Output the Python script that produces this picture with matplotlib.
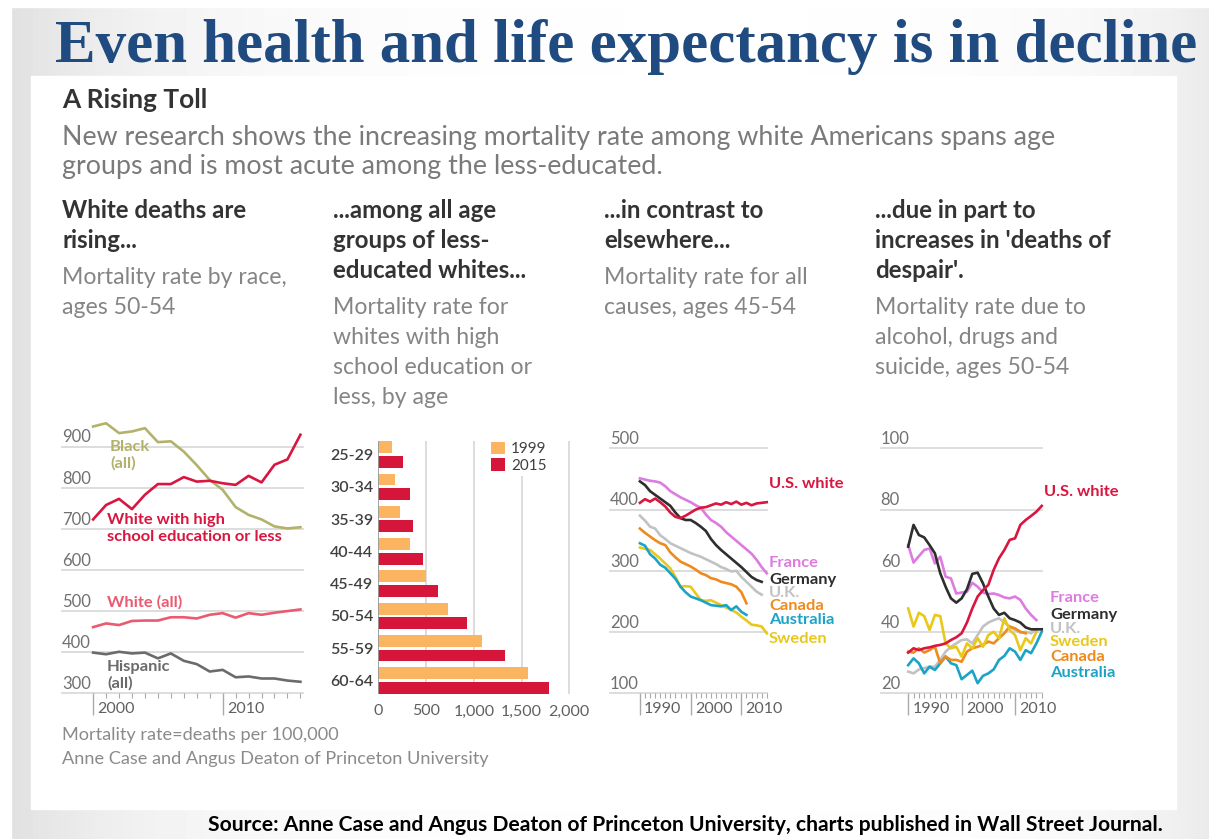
import numpy as np
import matplotlib
matplotlib.use('Agg')
import matplotlib.pyplot as plt
import matplotlib.transforms as mtransforms
from matplotlib.patches import Patch, Rectangle

W, H = 1209, 839

# panel 1: mortality rate by race, ages 50-54
race_years = list(range(2000, 2017))
black_all = [949, 957, 933, 937, 945, 911, 913, 888, 855, 819, 795, 753, 734, 723, 706, 701, 704]
white_hs = [723, 758, 773, 748, 783, 809, 809, 826, 815, 817, 811, 807, 829, 813, 856, 869, 929]
white_all = [461, 470, 466, 476, 477, 477, 485, 485, 482, 491, 495, 484, 495, 491, 496, 500, 504]
hispanic_all = [399, 395, 401, 397, 399, 385, 397, 379, 371, 353, 357, 339, 341, 336, 336, 331, 328]

# panel 2: whites with high school education or less, by age
age_groups = ['25-29', '30-34', '35-39', '40-44', '45-49', '50-54', '55-59', '60-64']
rate_1999 = [147, 175, 227, 332, 500, 727, 1091, 1563]
rate_2015 = [262, 332, 367, 472, 622, 930, 1332, 1790]

# panel 3: all causes, ages 45-54 (series start in 1990)
us_white_all = [411, 417, 413, 418, 412, 405, 395, 388, 386, 390, 395, 400, 403, 404, 407, 410,
                408, 412, 409, 413, 408, 411, 407, 410, 411, 412]
france_all = [451, 449, 447, 446, 444, 438, 430, 425, 420, 416, 412, 407, 403, 392, 383, 378,
              372, 363, 356, 349, 342, 335, 328, 318, 306, 296]
germany_all = [446, 440, 430, 424, 418, 412, 406, 395, 386, 383, 383, 378, 372, 365, 352, 342,
               334, 327, 320, 313, 306, 298, 290, 285, 282]
uk_all = [390, 382, 372, 369, 358, 352, 345, 341, 337, 333, 329, 326, 323, 319, 315, 311,
          306, 303, 299, 300, 290, 282, 274, 266, 261]
canada_all = [369, 362, 356, 350, 345, 342, 330, 322, 315, 311, 307, 302, 296, 293, 288, 286,
              282, 280, 278, 274, 265, 247]
australia_all = [345, 341, 327, 320, 310, 305, 296, 287, 274, 265, 258, 255, 252, 248, 244, 243,
                 242, 244, 236, 242, 233, 228]
sweden_all = [338, 336, 334, 327, 320, 312, 304, 290, 274, 275, 274, 263, 252, 251, 252, 248,
              244, 240, 236, 232, 225, 219, 212, 211, 209, 198]

# panel 4: alcohol, drugs and suicide, ages 50-54 (series start in 1990)
us_white_despair = [33.3, 34.7, 34.1, 34.7, 35.0, 35.5, 35.8, 36.3, 37.4, 38.3, 39.6, 43.1, 47.7,
                    51.6, 53.7, 55.4, 60.3, 64.1, 66.8, 70.1, 70.6, 75.0, 76.6, 77.9, 79.3, 81.2]
germany_despair = [67.9, 75.0, 71.7, 70.9, 68.4, 65.7, 59.2, 54.8, 51.0, 49.6, 51.0, 54.0, 59.0,
                   59.4, 55.9, 51.6, 47.7, 45.6, 46.3, 44.5, 43.9, 43.1, 41.5, 40.9, 40.9, 40.9]
france_despair = [68.4, 62.7, 64.8, 66.8, 67.3, 62.4, 64.6, 58.1, 57.5, 52.6, 52.9, 53.2, 56.1,
                  54.8, 52.9, 52.4, 52.6, 52.1, 51.3, 51.0, 51.6, 50.5, 47.7, 45.6, 43.9]
uk_despair = [27.1, 26.5, 27.8, 28.2, 28.7, 28.7, 30.9, 33.6, 35.2, 36.3, 37.4, 37.6, 36.3,
              39.0, 41.8, 43.1, 43.9, 44.5, 43.1, 41.8, 40.7, 39.8, 40.1, 39.6, 40.9]
sweden_despair = [47.7, 41.8, 46.3, 45.2, 40.7, 45.6, 45.2, 36.3, 34.7, 35.2, 32.0, 36.3, 34.7,
                  38.0, 35.2, 39.0, 40.1, 38.0, 44.5, 40.7, 39.0, 34.1, 38.0, 36.3, 40.1]
canada_despair = [33.6, 33.3, 34.7, 33.3, 34.1, 35.2, 29.8, 32.0, 30.9, 30.9, 30.3, 33.6, 34.7,
                  35.2, 35.8, 36.9, 36.3, 38.0, 39.6, 41.8, 41.2, 40.1, 39.6]
australia_despair = [29.2, 31.4, 29.8, 26.5, 28.7, 27.6, 29.8, 32.0, 29.8, 29.2, 24.6, 26.0, 27.4,
                     23.3, 25.7, 26.5, 27.8, 30.9, 32.2, 34.7, 33.6, 30.9, 34.1, 33.1, 36.3, 40.1]

CRIMSON = '#d8163f'
PINK = '#ea5a70'
OLIVE = '#b3b26b'
GREY = '#6b6b6b'
C1999 = '#fbb45f'
C2015 = '#d5153a'
FRANCE = '#de7be0'
GERMANY = '#2e2e2e'
UK = '#c2c2c2'
CANADA = '#ef8a1c'
AUSTRALIA = '#1ca3c8'
SWEDEN = '#e9c81c'
GRID = '#dadada'
SANS = ['Lato', 'DejaVu Sans']

plt.rcParams['font.family'] = SANS

fig = plt.figure(figsize=(W / 100, H / 100), dpi=100)
fig.patch.set_facecolor('white')
renderer = fig.canvas.get_renderer()


def rect(l, t, r, b):
    return [l / W, 1 - b / H, (r - l) / W, (b - t) / H]


def put(x, y, s, **kw):
    kw.setdefault('va', 'baseline')
    return fig.text(x / W, 1 - y / H, s, **kw)


def fit(t, width):
    w = t.get_window_extent(renderer).width
    t.set_fontsize(t.get_fontsize() * width / w)
    return t.get_fontsize()


# slide background with soft grey edges and the white card
bg = fig.add_axes([0, 0, 1, 1], zorder=-10)
gx, gy = np.meshgrid(np.linspace(0, W, 400), np.linspace(0, H, 200))
shade = 1 - 0.12 * np.exp(-(gx - 11) / 170) - 0.08 * np.exp(-(W - gx) / 120)
bg.imshow(shade, extent=[0, W, H, 0], cmap='gray', vmin=0, vmax=1, aspect='auto')
bg.add_patch(Rectangle((0, 0), W, 7, color='white'))
bg.add_patch(Rectangle((0, 0), 11, H, color='white'))
bg.add_patch(Rectangle((31, 76), 1145, 733, color='white'))
bg.set_xlim(0, W)
bg.set_ylim(H, 0)
bg.axis('off')

# headline and source
t = put(55, 62, 'Even health and life expectancy is in decline', family=['Liberation Serif'],
        weight='bold', color='#1f4b80', fontsize=40)
fit(t, 1140)
t = put(208, 831, 'Source: Anne Case and Angus Deaton of Princeton University, charts published in Wall Street Journal.',
        weight='bold', color='black', fontsize=14)
fit(t, 962)

# chart header texts
t = put(62, 108, 'A Rising Toll', weight='bold', color='#333333', fontsize=14)
fit(t, 146)
t = put(62, 145, 'New research shows the increasing mortality rate among white Americans spans age',
        color='#7a7a7a', fontsize=16)
sub_size = fit(t, 995)
put(62, 174, 'groups and is most acute among the less-educated.', color='#7a7a7a', fontsize=sub_size)

t = put(875, 248, "increases in 'deaths of", weight='bold', color='#333333', fontsize=14)
head_size = fit(t, 236)
t = put(62, 284, 'Mortality rate by race,', color='#858585', fontsize=14)
desc_size = fit(t, 225)

headings = [(62, ['White deaths are', 'rising...']),
            (333, ['...among all age', 'groups of less-', 'educated whites...']),
            (604, ['...in contrast to', 'elsewhere...']),
            (875, ['...due in part to', None, "despair'."])]
for x, lines in headings:
    for i, s in enumerate(lines):
        if s:
            put(x, 218 + 30 * i, s, weight='bold', color='#333333', fontsize=head_size)

descs = [(62, 284, [None, 'ages 50-54']),
         (333, 314, ['Mortality rate for', 'whites with high', 'school education or', 'less, by age']),
         (604, 284, ['Mortality rate for all', 'causes, ages 45-54']),
         (875, 314, ['Mortality rate due to', 'alcohol, drugs and', 'suicide, ages 50-54'])]
for x, y0, lines in descs:
    for i, s in enumerate(lines):
        if s:
            put(x, y0 + 30 * i, s, color='#858585', fontsize=desc_size)

t = put(62, 764, 'Anne Case and Angus Deaton of Princeton University', color='#8a8a8a', fontsize=11)
foot_size = fit(t, 426)
put(62, 740, 'Mortality rate=deaths per 100,000', color='#8a8a8a', fontsize=foot_size)


def line_panel(box, xlim, ylim, grid_vals, majors, years):
    ax = fig.add_axes(rect(*box))
    ax.set_xlim(*xlim)
    ax.set_ylim(*ylim)
    ax.set_facecolor('none')
    for s in ax.spines.values():
        s.set_visible(False)
    up = mtransforms.ScaledTranslation(0, 3 / 72, fig.dpi_scale_trans)
    for v in grid_vals:
        ax.axhline(v, color=GRID, lw=1.3, zorder=1, clip_on=False)
        ax.text(0, v, str(v), transform=ax.get_yaxis_transform() + up, ha='left', va='baseline',
                color='#707070', fontsize=12)
    ax.set_yticks([])
    ax.set_xticks(majors)
    ax.set_xticklabels([str(m) for m in majors])
    ax.set_xticks(years, minor=True)
    ax.tick_params(axis='x', which='major', length=16, width=1, color='#aaaaaa', pad=-9.5,
                   labelsize=11.5, labelcolor='#606060')
    ax.tick_params(axis='x', which='minor', length=3.5, width=0.8, color='#aaaaaa')
    right = mtransforms.ScaledTranslation(3 / 72, 0, fig.dpi_scale_trans)
    for lab in ax.get_xticklabels():
        lab.set_ha('left')
        lab.set_transform(lab.get_transform() + right)
    return ax


LW = 1.9

# panel 1
ax1 = line_panel((62, 422, 303, 693.3), (1997.6, 2016.2), (300, 960),
                 [900, 800, 700, 600, 500, 400, 300], [2000, 2010], race_years)
ax1.plot(race_years, black_all, color=OLIVE, lw=LW, zorder=3)
ax1.plot(race_years, white_hs, color=CRIMSON, lw=LW, zorder=4)
ax1.plot(race_years, white_all, color=PINK, lw=LW, zorder=3)
ax1.plot(race_years, hispanic_all, color=GREY, lw=LW, zorder=3)

t = put(107, 541, 'school education or less', weight='bold', color=CRIMSON, fontsize=10)
lab_size = fit(t, 176)
for x, y, s, c in [(110, 451, 'Black', OLIVE), (110, 468, '(all)', OLIVE),
                   (107, 524, 'White with high', CRIMSON), (107, 607, 'White (all)', PINK),
                   (107, 671, 'Hispanic', GREY), (107, 688, '(all)', GREY)]:
    put(x, y, s, weight='bold', color=c, fontsize=lab_size)

# panel 2
ax2 = fig.add_axes(rect(378.3, 441, 575, 694))
ax2.set_facecolor('none')
for s in ax2.spines.values():
    s.set_visible(False)
idx = np.arange(len(age_groups))
bar_h = 0.367
off = 0.226
ax2.barh(idx - off, rate_1999, height=bar_h, color=C1999, zorder=3)
ax2.barh(idx + off, rate_2015, height=bar_h, color=C2015, zorder=3)
ax2.set_xlim(0, 2060)
ax2.set_ylim(7.42, -0.42)
for v in [500, 1000, 1500, 2000]:
    ax2.axvline(v, color=GRID, lw=1.3, zorder=1)
ax2.axvline(0, color='#9a9a9a', lw=1.3, zorder=4)
ax2.set_yticks(idx)
ax2.set_yticklabels(age_groups)
ax2.set_xticks([0, 500, 1000, 1500, 2000])
ax2.set_xticklabels(['0', '500', '1,000', '1,500', '2,000'])
ax2.tick_params(axis='y', length=0, pad=3.5, labelsize=11.5, labelcolor='#404040')
ax2.tick_params(axis='x', length=0, pad=7.5, labelsize=11.5, labelcolor='#606060')
for lab in ax2.get_yticklabels():
    lab.set_fontweight('semibold')
leg = ax2.legend([Patch(facecolor=C1999), Patch(facecolor=C2015)], ['1999', '2015'],
                 loc='upper right', bbox_to_anchor=(0.87, 1.01), frameon=True, facecolor='white',
                 edgecolor='none', framealpha=1, handlelength=0.9, handleheight=0.9,
                 fontsize=11, borderpad=0.2, labelspacing=0.15, handletextpad=0.4, borderaxespad=0)
for txt in leg.get_texts():
    txt.set_color('#404040')
leg.set_zorder(5)

# panel 3
yrs3 = list(range(1990, 2016))
ax3 = line_panel((610, 442.2, 767, 693.3), (1984.1, 2015.05), (100, 510),
                 [500, 400, 300, 200, 100], [1990, 2000, 2010], yrs3)
for vals, c in [(uk_all, UK), (sweden_all, SWEDEN), (australia_all, AUSTRALIA),
                (canada_all, CANADA), (france_all, FRANCE), (germany_all, GERMANY),
                (us_white_all, CRIMSON)]:
    ax3.plot(yrs3[:len(vals)], vals, color=c, lw=LW, zorder=3, clip_on=False)

for y, s, c in [(488, 'U.S. white', CRIMSON), (567, 'France', FRANCE), (584, 'Germany', GERMANY),
                (597, 'U.K.', UK), (610, 'Canada', CANADA), (624, 'Australia', AUSTRALIA),
                (643, 'Sweden', SWEDEN)]:
    put(769, y, s, weight='bold', color=c, fontsize=lab_size)

# panel 4
yrs4 = list(range(1990, 2016))
ax4 = line_panel((880.7, 442.2, 1042, 693.3), (1984.85, 2015.05), (20, 102),
                 [100, 80, 60, 40, 20], [1990, 2000, 2010], yrs4)
for vals, c in [(uk_despair, UK), (australia_despair, AUSTRALIA), (canada_despair, CANADA),
                (sweden_despair, SWEDEN), (france_despair, FRANCE), (germany_despair, GERMANY),
                (us_white_despair, CRIMSON)]:
    ax4.plot(yrs4[:len(vals)], vals, color=c, lw=LW, zorder=3, clip_on=False)

put(1044, 496, 'U.S. white', weight='bold', color=CRIMSON, fontsize=lab_size)
for y, s, c in [(602, 'France', FRANCE), (619, 'Germany', GERMANY), (633, 'U.K.', UK),
                (646, 'Sweden', SWEDEN), (661, 'Canada', CANADA), (677, 'Australia', AUSTRALIA)]:
    put(1050, y, s, weight='bold', color=c, fontsize=lab_size)

fig.savefig('out.png', dpi=100, facecolor=fig.get_facecolor())
